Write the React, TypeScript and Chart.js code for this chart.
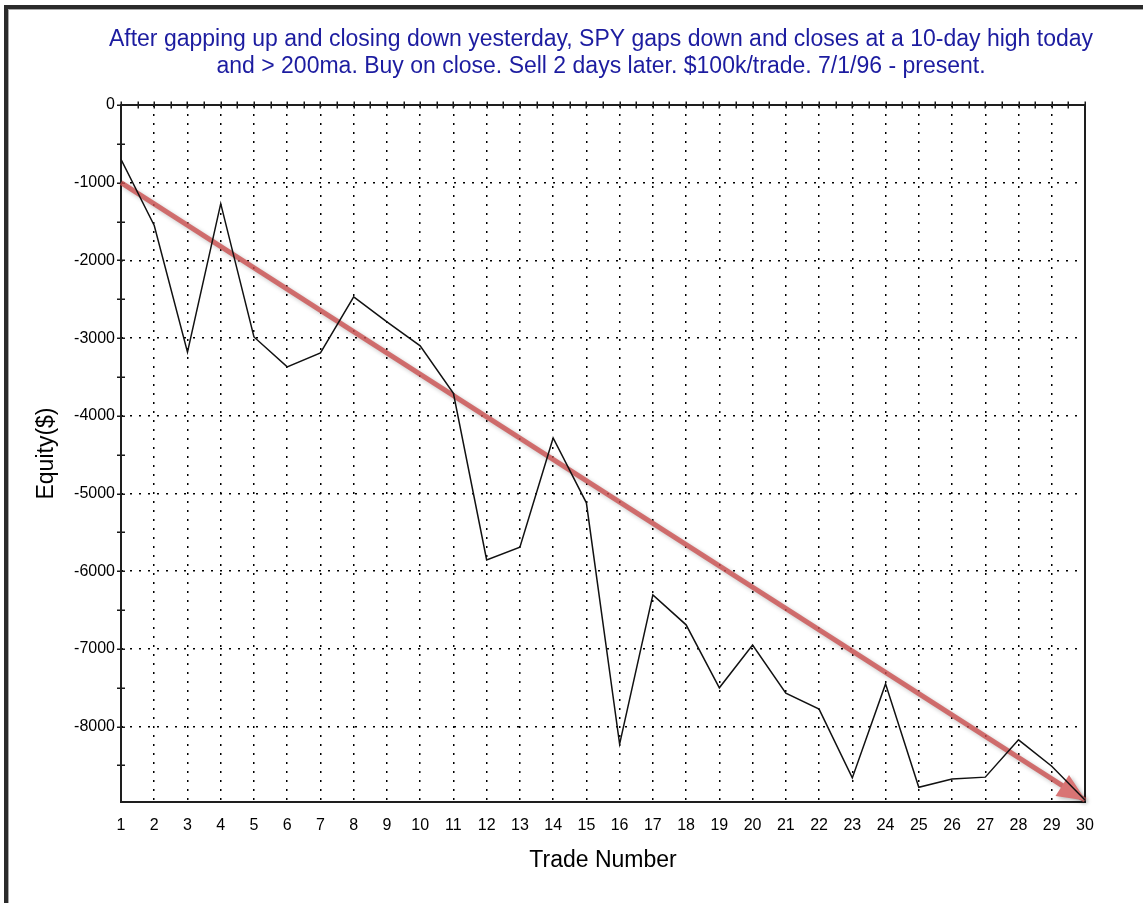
import React, { useEffect, useRef } from 'react';
import { Chart, registerables } from 'chart.js';

Chart.register(...registerables);

const FONT = '"Liberation Sans", Arial, sans-serif';

const titleLines = [
  'After gapping up and closing down yesterday, SPY gaps down and closes at a 10-day high today',
  'and > 200ma. Buy on close. Sell 2 days later. $100k/trade. 7/1/96 - present.',
];

const tradeNumbers = [1, 2, 3, 4, 5, 6, 7, 8, 9, 10, 11, 12, 13, 14, 15, 16, 17, 18, 19, 20, 21, 22, 23, 24, 25, 26, 27, 28, 29, 30];

const equity = [
  -700, -1550, -3180, -1270, -2985, -3370, -3190, -2470, -2790, -3100,
  -3710, -5855, -5690, -4285, -5120, -8225, -6305, -6690, -7500, -6950,
  -7570, -7775, -8660, -7450, -8780, -8675, -8650, -8170, -8510, -8945,
];

const trendX = [1, 30];
const trendY = [-1000, -8945];

const xTickValues = tradeNumbers;
const yTickValues = [0, -1000, -2000, -3000, -4000, -5000, -6000, -7000, -8000];
const yMinorTicks = [0, -500, -1000, -1500, -2000, -2500, -3000, -3500, -4000, -4500, -5000, -5500, -6000, -6500, -7000, -7500, -8000, -8500];
const xMinorTicks = xTickValues.flatMap((v) => (v < 30 ? [v, v + 0.5] : [v]));

const Y_MIN = -8970;
const Y_MAX = 0;

const TREND_INDEX = 1;

const titlePlugin = {
  id: 'twoLineTitle',
  afterDraw(chart: any) {
    const { ctx, chartArea: a } = chart;
    ctx.save();
    ctx.fillStyle = '#1c1ca0';
    ctx.font = `23px ${FONT}`;
    ctx.textAlign = 'center';
    ctx.textBaseline = 'alphabetic';
    const cx = (a.left + a.right) / 2 - 2;
    titleLines.forEach((line, i) => {
      ctx.fillText(line, cx, 46 + i * 26.7);
    });
    ctx.restore();
  },
};

const framePlugin = {
  id: 'frameTicks',
  beforeDatasetsDraw(chart: any) {
    const { ctx, chartArea: a, scales } = chart;
    const x = scales.x;
    const y = scales.y;
    ctx.save();
    ctx.strokeStyle = '#1a1a1a';
    ctx.lineWidth = 1.5;
    ctx.beginPath();
    xMinorTicks.forEach((v) => {
      const px = Math.round(x.getPixelForValue(v)) + 0.25;
      ctx.moveTo(px, a.top - 3.5);
      ctx.lineTo(px, a.top + 3.5);
    });
    yMinorTicks.forEach((v) => {
      const py = Math.round(y.getPixelForValue(v)) + 0.25;
      ctx.moveTo(a.left - 4, py);
      ctx.lineTo(a.left + 4, py);
    });
    ctx.stroke();
    ctx.lineWidth = 2;
    ctx.strokeStyle = '#1e1e1e';
    ctx.strokeRect(a.left, a.top, a.right - a.left, a.bottom - a.top);
    ctx.restore();
  },
};

const arrowPlugin = {
  id: 'trendArrow',
  beforeDatasetDraw(chart: any, args: any) {
    if (args.index !== TREND_INDEX) return;
    const ctx = chart.ctx;
    ctx.save();
    ctx.shadowColor = 'rgba(0,0,0,0.28)';
    ctx.shadowBlur = 4;
    ctx.shadowOffsetX = 2;
    ctx.shadowOffsetY = 2;
  },
  afterDatasetDraw(chart: any, args: any) {
    if (args.index !== TREND_INDEX) return;
    const ctx = chart.ctx;
    ctx.restore();
    const meta = chart.getDatasetMeta(TREND_INDEX);
    if (!meta || meta.data.length < 2) return;
    const p0 = meta.data[0];
    const p1 = meta.data[meta.data.length - 1];
    const ang = Math.atan2(p1.y - p0.y, p1.x - p0.x);
    const c = Math.cos(ang);
    const s = Math.sin(ang);
    const tipX = p1.x + 1 * c;
    const tipY = p1.y + 1 * s;
    const len = 28;
    const half = 12.5;
    const bx = tipX - len * c;
    const by = tipY - len * s;
    ctx.save();
    ctx.shadowColor = 'rgba(0,0,0,0.28)';
    ctx.shadowBlur = 4;
    ctx.shadowOffsetX = 2;
    ctx.shadowOffsetY = 2;
    ctx.fillStyle = 'rgb(217,116,116)';
    ctx.beginPath();
    ctx.moveTo(tipX, tipY);
    ctx.lineTo(bx + half * s, by - half * c);
    ctx.lineTo(bx - half * s, by + half * c);
    ctx.closePath();
    ctx.fill();
    ctx.restore();
  },
};

export default function App() {
  const canvasRef = useRef<HTMLCanvasElement | null>(null);

  useEffect(() => {
    const canvas = canvasRef.current;
    if (!canvas) return;
    const chart = new Chart(canvas, {
      type: 'line',
      data: {
        datasets: [
          {
            label: 'Equity($)',
            data: tradeNumbers.map((x, i) => ({ x, y: equity[i] })),
            borderColor: '#111111',
            borderWidth: 1.5,
            pointRadius: 0,
            tension: 0,
            order: 0,
          },
          {
            label: 'Trend',
            data: trendX.map((x, i) => ({ x, y: trendY[i] })),
            borderColor: 'rgba(204,80,80,0.8)',
            borderWidth: 5,
            pointRadius: 0,
            tension: 0,
            clip: false as any,
            order: 1,
          },
        ],
      },
      options: {
        responsive: false,
        animation: false,
        events: [],
        layout: { padding: { left: 33, right: 58, top: 105, bottom: 28.2 } },
        plugins: {
          legend: { display: false },
          tooltip: { enabled: false },
          title: { display: false },
        },
        scales: {
          x: {
            type: 'linear',
            min: 1,
            max: 30,
            afterBuildTicks: (s: any) => {
              s.ticks = xTickValues.map((v) => ({ value: v }));
            },
            afterFit: (s: any) => {
              s.height = 72.8;
            },
            grid: {
              drawTicks: false,
              lineWidth: 1.5,
              color: (c: any) => (c.tick && (c.tick.value === 1 || c.tick.value === 30) ? 'rgba(0,0,0,0)' : '#000'),
            },
            border: { display: false, dash: [2, 7] },
            ticks: {
              padding: 14,
              color: '#000',
              font: { family: FONT, size: 16 },
              maxRotation: 0,
              autoSkip: false,
              callback: (v: any) => String(v),
            },
            title: {
              display: true,
              text: 'Trade Number',
              color: '#000',
              font: { family: FONT, size: 23, lineHeight: 1.2 },
              padding: 0,
            },
          },
          y: {
            type: 'linear',
            min: Y_MIN,
            max: Y_MAX,
            afterBuildTicks: (s: any) => {
              s.ticks = yTickValues.map((v) => ({ value: v }));
            },
            afterFit: (s: any) => {
              s.width = 88;
            },
            grid: {
              drawTicks: false,
              lineWidth: 1.5,
              color: (c: any) => (c.tick && c.tick.value === 0 ? 'rgba(0,0,0,0)' : '#000'),
            },
            border: { display: false, dash: [2, 7] },
            ticks: {
              padding: 6,
              color: '#000',
              font: { family: FONT, size: 16 },
              callback: (v: any) => String(v),
            },
            title: {
              display: true,
              text: 'Equity($)',
              color: '#000',
              font: { family: FONT, size: 23, lineHeight: 1.2 },
              padding: 0,
            },
          },
        },
      },
      plugins: [framePlugin, arrowPlugin, titlePlugin],
    });
    return () => chart.destroy();
  }, []);

  return (
    <div style={{ position: 'absolute', left: 0, top: 0, width: 1143, height: 903, background: '#fff', overflow: 'hidden' }}>
      <canvas ref={canvasRef} width={1143} height={903} style={{ position: 'absolute', left: 0, top: 0, display: 'block' }} />
      <div
        style={{
          position: 'absolute',
          left: 4,
          top: 5,
          width: 1139,
          height: 898,
          borderTop: '4px solid #2b2b2b',
          borderLeft: '4px solid #2b2b2b',
          boxSizing: 'border-box',
          pointerEvents: 'none',
        }}
      >
        <div
          style={{
            position: 'absolute',
            left: 0,
            top: 0,
            right: 0,
            bottom: 0,
            borderTop: '1px solid #a8a8a8',
            borderLeft: '1px solid #a8a8a8',
          }}
        />
      </div>
    </div>
  );
}
